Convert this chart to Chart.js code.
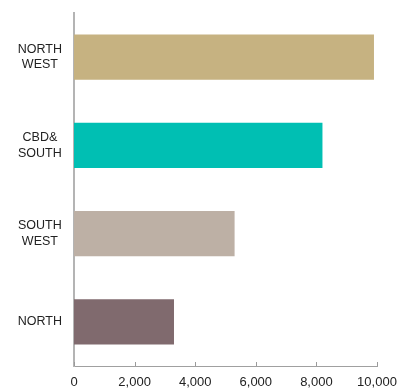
<!DOCTYPE html>
<html>
<head>
<meta charset="utf-8">
<script src="https://cdn.jsdelivr.net/npm/chart.js@4"></script>
<style>
  html, body { margin: 0; padding: 0; background: #fff; }
  #wrap { width: 410px; height: 390px; position: relative; }
</style>
</head>
<body>
<div id="wrap"><canvas id="myChartBar"></canvas></div>
<script>
// chart data
var regions = [['NORTH', 'WEST'], ['CBD&', 'SOUTH'], ['SOUTH', 'WEST'], 'NORTH'];
var values = [9900, 8200, 5300, 3300];
var barColors = ['#c6b281', '#00bfb3', '#bdb0a5', '#806a6e'];
var xTicks = [0, 2000, 4000, 6000, 8000, 10000];

// small tick marks pointing up into the plot, like the original
var innerTicks = {
    id: 'innerTicks',
    afterDraw: function(chart) {
        var x = chart.scales.x;
        var c = chart.ctx;
        c.save();
        c.strokeStyle = '#9a9a9a';
        c.lineWidth = 1;
        xTicks.forEach(function(v) {
            var px = Math.round(x.getPixelForValue(v)) + 0.5;
            c.beginPath();
            c.moveTo(px, x.top);
            c.lineTo(px, x.top - 4);
            c.stroke();
        });
        c.restore();
    }
};

var ctx = document.getElementById('myChartBar').getContext('2d');
var myChartBar = new Chart(ctx, {
    type: 'bar',
    data: {
        labels: regions,
        datasets: [{
            data: values,
            backgroundColor: barColors,
            borderWidth: 0,
            barPercentage: 0.51,
            categoryPercentage: 1
        }]
    },
    plugins: [innerTicks],
    options: {
        indexAxis: 'y',
        responsive: true,
        maintainAspectRatio: false,
        animation: false,
        layout: { padding: { top: 13, right: 33, left: 0, bottom: 0 } },
        plugins: {
            legend: { display: false },
            tooltip: { enabled: false }
        },
        scales: {
            x: {
                min: 0,
                max: 10000,
                afterBuildTicks: function(s) {
                    s.ticks = xTicks.map(function(v) { return { value: v }; });
                },
                afterFit: function(s) { s.height = 24; },
                grid: { display: false, drawTicks: false },
                border: { display: true, color: '#a0a0a0', width: 1 },
                ticks: {
                    padding: 9,
                    maxRotation: 0,
                    color: '#222',
                    font: { family: '"Liberation Sans", Arial, sans-serif', size: 13 },
                    callback: function(v) { return v.toLocaleString('en-US'); }
                }
            },
            y: {
                afterFit: function(s) {
                    s.width = 74;
                    s.paddingTop = 0;
                    s.paddingBottom = 0;
                },
                grid: { display: false, drawTicks: false },
                border: { display: true, color: '#b4b4b4', width: 2 },
                ticks: {
                    padding: 12,
                    crossAlign: 'center',
                    color: '#222',
                    font: { family: '"Liberation Sans", Arial, sans-serif', size: 12.5, lineHeight: 1.25 }
                }
            }
        }
    }
});
</script>
</body>
</html>
